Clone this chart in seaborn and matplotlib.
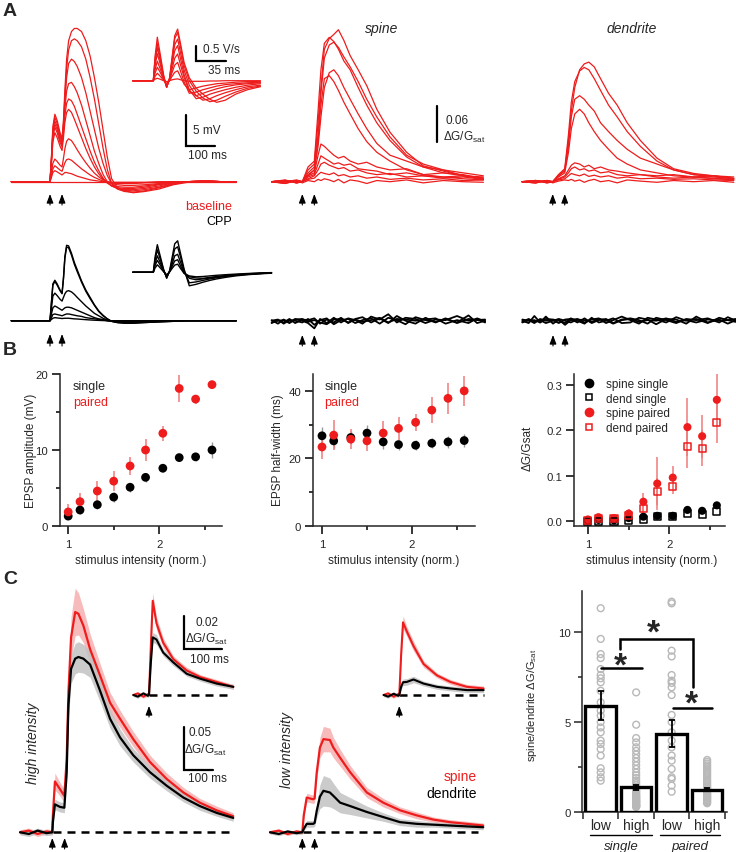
import numpy as np
import pandas as pd
import matplotlib
matplotlib.use("Agg")
import matplotlib.pyplot as plt
from matplotlib.lines import Line2D
import seaborn as sns

# ---------------- DATA ----------------
# Panel A, somatic EPSPs (ms from first stimulus, mV)
A_T = [-135, -20, 0, 5, 10, 17, 25, 35, 42, 47, 52, 58, 65, 75, 85, 95, 110, 125, 140, 155,
       170, 185, 200, 215, 235, 260, 290, 330, 380, 430, 480, 540, 600, 650]
A_EPSP_BASE = [
    [0, 0, 0, 4, 9, 11, 10, 8, 7, 10, 15, 20, 23, 24.5, 25, 25, 24.5, 23, 20.5, 17, 13, 8.5, 4, 0.5, -1, -1.5, -1.8, -1.6, -1.2, -0.5, -0.1, 0.1, 0, 0],
    [0, 0, 0, 3.8, 8.5, 10.5, 9.5, 7.6, 6.7, 9.5, 14, 18.5, 21.5, 23, 23.3, 23, 22, 20, 17, 13.5, 9.5, 5.5, 2, -0.3, -1.2, -1.6, -1.7, -1.5, -1, -0.4, 0, 0.1, 0, 0],
    [0, 0, 0, 3.6, 8, 9.9, 9, 7.2, 6.4, 9, 13, 17, 19.3, 20, 19.6, 18.8, 17, 14.5, 11.5, 8.5, 5.5, 3, 1, -0.3, -1, -1.4, -1.5, -1.3, -0.9, -0.3, 0, 0.1, 0, 0],
    [0, 0, 0, 3.4, 7.6, 9.4, 8.5, 6.8, 6, 8.5, 12, 14.8, 16, 16.2, 15.5, 14.5, 12.5, 10, 7.5, 5, 3, 1.2, 0, -0.7, -1.1, -1.3, -1.3, -1.1, -0.7, -0.2, 0, 0.1, 0, 0],
    [0, 0, 0, 3.2, 7.2, 8.9, 8, 6.4, 5.7, 8, 10.8, 12.8, 13.5, 13.2, 12.3, 11, 9, 7, 5, 3.2, 1.8, 0.6, -0.2, -0.7, -1, -1.1, -1.1, -0.9, -0.5, -0.2, 0, 0.1, 0, 0],
    [0, 0, 0, 2.9, 6.5, 8, 7.2, 5.8, 5.1, 7.2, 9.7, 11.3, 11.8, 11.3, 10.2, 9, 7.2, 5.4, 3.8, 2.4, 1.3, 0.4, -0.2, -0.6, -0.8, -0.9, -0.9, -0.7, -0.4, -0.1, 0, 0.1, 0, 0],
    [0, 0, 0, 1.4, 3, 3.7, 3.3, 2.7, 2.4, 3.8, 5.4, 6.6, 7, 6.7, 6, 5.2, 4.1, 3.1, 2.2, 1.4, 0.8, 0.3, 0, -0.3, -0.5, -0.6, -0.6, -0.5, -0.3, -0.1, 0, 0.1, 0, 0],
    [0, 0, 0, 1, 2.1, 2.6, 2.3, 1.9, 1.7, 2.4, 3.1, 3.6, 3.7, 3.5, 3.1, 2.7, 2.1, 1.6, 1.1, 0.7, 0.4, 0.1, 0, -0.2, -0.3, -0.3, -0.3, -0.2, -0.1, 0, 0, 0.1, 0, 0],
    [0, 0, 0, 0.7, 1.5, 1.8, 1.6, 1.3, 1.1, 1.3, 1.5, 1.5, 1.4, 1.3, 1.1, 0.9, 0.7, 0.5, 0.3, 0.2, 0.1, 0, 0, -0.1, -0.1, -0.1, -0.1, -0.1, 0, 0, 0, 0, 0, 0],
    [0] * 34,
]
A_EPSP_CPP = [
    [0, 0, 0, 3, 6, 6.6, 6, 5, 4.5, 7, 10.5, 12.3, 12.2, 11, 9.5, 8.3, 6.5, 5, 3.8, 2.6, 1.6, 0.9, 0.3, -0.1, -0.3, -0.4, -0.4, -0.3, -0.2, -0.1, 0, 0, 0, 0],
    [0, 0, 0, 2.9, 5.8, 6.4, 5.8, 4.9, 4.4, 6.8, 10.2, 12, 11.9, 10.7, 9.2, 8, 6.3, 4.8, 3.6, 2.5, 1.5, 0.8, 0.3, -0.1, -0.3, -0.4, -0.4, -0.3, -0.2, -0.1, 0, 0, 0, 0],
    [0, 0, 0, 2, 4, 4.5, 4.1, 3.5, 3.2, 3.8, 4.4, 4.8, 4.9, 4.7, 4.3, 3.8, 3.1, 2.4, 1.8, 1.2, 0.8, 0.4, 0.1, -0.1, -0.2, -0.3, -0.3, -0.2, -0.1, 0, 0, 0, 0, 0],
    [0, 0, 0, 1.1, 2.1, 2.4, 2.2, 1.9, 1.7, 1.9, 2.1, 2.2, 2.2, 2.1, 1.9, 1.7, 1.4, 1.1, 0.8, 0.5, 0.3, 0.2, 0, -0.1, -0.1, -0.2, -0.2, -0.1, -0.1, 0, 0, 0, 0, 0],
    [0, 0, 0, 0.5, 1, 1.1, 1, 0.9, 0.8, 0.9, 1, 1.1, 1.1, 1, 0.9, 0.8, 0.7, 0.5, 0.4, 0.3, 0.2, 0.1, 0, 0, 0, -0.1, -0.1, 0, 0, 0, 0, 0, 0, 0],
    [0, 0, 0, 0.2, 0.4, 0.5, 0.45, 0.4, 0.35, 0.38, 0.4, 0.4, 0.4, 0.35, 0.3, 0.28, 0.22, 0.17, 0.12, 0.08, 0.05, 0.02, 0, 0, 0, 0, 0, 0, 0, 0, 0, 0, 0, 0],
]
STIM_T = [0, 42]

# Panel A insets, dV/dt (ms, V/s)
A_DVDT_T = [-24, -2, 0, 2, 4.7, 8, 12, 15.6, 19, 22, 25, 28.4, 32, 36, 42, 50, 58, 66, 74, 84, 96, 110, 125]
A_DVDT_BASE = [
    [0, 0, 0, 0.8, 1.45, 0.9, 0.2, -0.22, 0.1, 0.8, 1.5, 1.72, 1.2, 0.6, 0.1, -0.25, -0.45, -0.62, -0.72, -0.65, -0.45, -0.3, -0.2],
    [0, 0, 0, 0.7, 1.25, 0.78, 0.15, -0.22, 0.08, 0.75, 1.4, 1.61, 1.1, 0.5, 0, -0.35, -0.58, -0.7, -0.65, -0.52, -0.38, -0.25, -0.18],
    [0, 0, 0, 0.6, 1.1, 0.68, 0.12, -0.22, 0.06, 0.65, 1.2, 1.39, 0.9, 0.35, -0.15, -0.5, -0.65, -0.6, -0.5, -0.4, -0.3, -0.2, -0.15],
    [0, 0, 0, 0.5, 0.9, 0.56, 0.1, -0.2, 0.05, 0.55, 1.0, 1.17, 0.7, 0.2, -0.3, -0.6, -0.55, -0.45, -0.38, -0.3, -0.22, -0.15, -0.1],
    [0, 0, 0, 0.36, 0.65, 0.4, 0.07, -0.18, 0.04, 0.4, 0.75, 0.89, 0.5, 0.1, -0.35, -0.5, -0.42, -0.34, -0.27, -0.2, -0.14, -0.1, -0.07],
    [0, 0, 0, 0.25, 0.45, 0.28, 0.05, -0.15, 0.02, 0.28, 0.52, 0.61, 0.3, -0.05, -0.42, -0.38, -0.3, -0.24, -0.18, -0.13, -0.1, -0.07, -0.05],
    [0, 0, 0, 0.14, 0.25, 0.15, 0.02, -0.1, 0, 0.15, 0.28, 0.33, 0.12, -0.12, -0.3, -0.24, -0.18, -0.14, -0.1, -0.08, -0.05, -0.03, -0.02],
    [0, 0, 0, 0.05, 0.08, 0.05, 0, -0.03, 0, 0.03, 0.05, 0.06, 0.03, 0, -0.02, -0.02, -0.02, -0.01, -0.01, 0, 0, 0, 0],
]
A_DVDT_CPP_T = [-24, -2, 0, 2, 4.7, 8, 12, 15.6, 19, 22, 25, 28.4, 32, 36, 42, 50, 58, 66, 74, 84, 96, 110, 125, 138]
A_DVDT_CPP = [
    [0, 0, 0, 0.5, 0.92, 0.55, 0.1, -0.2, 0.05, 0.5, 0.95, 1.05, 0.6, 0.1, -0.45, -0.4, -0.33, -0.27, -0.22, -0.17, -0.12, -0.08, -0.05, -0.03],
    [0, 0, 0, 0.4, 0.75, 0.45, 0.08, -0.18, 0.04, 0.4, 0.78, 0.85, 0.48, 0.05, -0.35, -0.32, -0.27, -0.22, -0.18, -0.14, -0.1, -0.07, -0.04, -0.02],
    [0, 0, 0, 0.3, 0.55, 0.33, 0.06, -0.15, 0.03, 0.28, 0.55, 0.6, 0.32, 0, -0.2, -0.25, -0.22, -0.19, -0.16, -0.12, -0.09, -0.06, -0.04, -0.02],
    [0, 0, 0, 0.22, 0.4, 0.24, 0.04, -0.12, 0.02, 0.2, 0.38, 0.42, 0.2, -0.03, -0.15, -0.19, -0.2, -0.17, -0.14, -0.11, -0.08, -0.05, -0.03, -0.02],
    [0, 0, 0, 0.14, 0.25, 0.15, 0.02, -0.08, 0.01, 0.13, 0.24, 0.27, 0.12, -0.04, -0.12, -0.15, -0.14, -0.12, -0.1, -0.08, -0.06, -0.04, -0.02, -0.01],
]

# Panel A calcium (ms, dG/Gsat)
CA_T = [-107, -60, -20, 0, 20, 42, 55, 65, 77, 94, 110, 126, 145, 167, 195, 225, 260, 306, 364, 422, 492, 562, 632]
CA_SPINE_BASE = [
    [0, 0.003, -0.002, 0, 0.02, 0.03, 0.1, 0.16, 0.225, 0.243, 0.25, 0.258, 0.24, 0.214, 0.19, 0.163, 0.123, 0.084, 0.05, 0.027, 0.018, 0.01, 0.008],
    [0, -0.002, 0.002, 0, 0.025, 0.035, 0.12, 0.19, 0.235, 0.245, 0.238, 0.225, 0.205, 0.19, 0.16, 0.13, 0.1, 0.07, 0.042, 0.025, 0.015, 0.012, 0.005],
    [0, 0.002, 0, 0, 0.015, 0.025, 0.08, 0.15, 0.21, 0.232, 0.237, 0.228, 0.212, 0.195, 0.17, 0.14, 0.11, 0.076, 0.045, 0.03, 0.02, 0.01, 0.006],
    [0, 0, 0.002, 0, 0.01, 0.02, 0.06, 0.11, 0.16, 0.185, 0.19, 0.18, 0.16, 0.14, 0.115, 0.09, 0.065, 0.045, 0.035, 0.025, 0.02, 0.015, 0.01],
    [0, 0.002, -0.002, 0, 0.012, 0.02, 0.07, 0.13, 0.175, 0.18, 0.17, 0.155, 0.135, 0.115, 0.09, 0.068, 0.05, 0.035, 0.02, 0.012, 0.008, 0.005, 0.003],
    [0, 0, 0.003, 0, 0.01, 0.015, 0.045, 0.064, 0.06, 0.052, 0.045, 0.04, 0.043, 0.035, 0.03, 0.033, 0.025, 0.02, 0.022, 0.012, 0.015, 0.01, 0.006],
    [0, 0.002, 0, 0, 0.008, 0.012, 0.03, 0.044, 0.04, 0.035, 0.03, 0.032, 0.028, 0.03, 0.022, 0.02, 0.018, 0.012, 0.015, 0.01, 0.008, 0.01, 0.005],
    [0, -0.003, 0.002, 0, 0.005, 0.01, 0.02, 0.03, 0.033, 0.028, 0.025, 0.022, 0.024, 0.018, 0.02, 0.015, 0.012, 0.014, 0.008, 0.01, 0.006, 0.008, 0.004],
    [0, 0.002, -0.002, 0, 0.004, 0.006, 0.012, 0.016, 0.014, 0.012, 0.015, 0.01, 0.012, 0.008, 0.01, 0.006, 0.008, 0.004, 0.006, 0.003, 0.005, 0.002, 0.003],
    [0, -0.003, 0.002, -0.002, 0.002, 0, 0.004, 0.002, 0.005, 0.003, 0, 0.004, -0.002, 0.003, 0.001, -0.003, 0.002, 0, 0.003, -0.002, 0.002, 0, -0.001],
]
CA_DEND_BASE = [
    [0, 0.002, -0.002, 0, 0.01, 0.02, 0.07, 0.12, 0.16, 0.19, 0.2, 0.203, 0.195, 0.175, 0.15, 0.13, 0.1, 0.07, 0.04, 0.022, 0.014, 0.01, 0.008],
    [0, -0.002, 0.002, 0, 0.012, 0.022, 0.08, 0.135, 0.17, 0.188, 0.194, 0.19, 0.175, 0.155, 0.13, 0.11, 0.085, 0.06, 0.035, 0.02, 0.012, 0.008, 0.005],
    [0, 0.002, 0, 0, 0.01, 0.018, 0.06, 0.11, 0.14, 0.146, 0.14, 0.13, 0.12, 0.1, 0.085, 0.07, 0.055, 0.04, 0.03, 0.02, 0.012, 0.01, 0.006],
    [0, 0, 0.002, 0, 0.008, 0.015, 0.05, 0.09, 0.115, 0.123, 0.115, 0.1, 0.085, 0.07, 0.055, 0.04, 0.03, 0.02, 0.015, 0.01, 0.008, 0.01, 0.005],
    [0, 0.002, -0.002, 0, 0.005, 0.01, 0.02, 0.028, 0.032, 0.03, 0.025, 0.028, 0.022, 0.025, 0.02, 0.018, 0.015, 0.012, 0.01, 0.012, 0.008, 0.006, 0.004],
    [0, -0.002, 0.002, 0, 0.004, 0.008, 0.015, 0.022, 0.025, 0.02, 0.022, 0.018, 0.02, 0.015, 0.017, 0.012, 0.01, 0.012, 0.008, 0.006, 0.008, 0.005, 0.003],
    [0, 0.002, 0, 0, 0.003, 0.005, 0.01, 0.014, 0.012, 0.01, 0.013, 0.009, 0.011, 0.008, 0.01, 0.006, 0.008, 0.005, 0.006, 0.004, 0.005, 0.003, 0.002],
    [0, -0.002, 0.002, -0.002, 0.001, 0.003, 0.002, 0.004, 0.001, 0.003, -0.001, 0.002, 0.004, 0, 0.002, -0.002, 0.003, 0.001, -0.001, 0.002, 0, 0.002, -0.001],
]
CA_CPP_T = [-107, -85, -65, -45, -25, 0, 20, 42, 62, 85, 110, 135, 160, 185, 210, 240, 270, 300, 330, 360,
            395, 430, 465, 500, 540, 580, 610, 638]
CA_SPINE_CPP = [
    [0.002, -0.004, 0.003, -0.002, 0.004, 0.001, -0.003, -0.012, 0.004, -0.003, 0.006, -0.002, 0.005, 0.002, -0.004, 0.008, 0.003, 0.012, -0.002, 0.006, 0.004, -0.003, 0.003, 0.002, 0.009, 0.001, 0.004, -0.002],
    [-0.003, 0.002, -0.002, 0.004, -0.003, 0.003, 0.002, 0.005, -0.004, 0.003, -0.002, 0.006, -0.003, 0.004, 0.007, -0.002, 0.005, -0.003, 0.009, 0.001, -0.004, 0.006, -0.002, 0.005, -0.003, 0.004, 0.002, 0.003],
    [0.001, 0.003, -0.004, 0.002, 0.001, -0.002, 0.004, -0.006, 0.002, 0.005, -0.005, 0.002, 0.004, -0.003, 0.002, 0.005, -0.004, 0.006, 0.002, -0.005, 0.007, 0.002, -0.001, 0.004, -0.002, 0.01, -0.003, 0.001],
    [-0.002, 0.001, 0.002, -0.003, 0.003, 0.004, -0.001, 0.002, -0.002, -0.005, 0.003, 0.004, -0.002, 0.003, -0.001, 0.002, 0.006, -0.002, 0.004, 0.003, 0.001, 0.003, 0.005, -0.004, 0.002, -0.003, 0.005, 0],
]
CA_DEND_CPP = [
    [0.001, -0.003, 0.009, -0.002, 0.008, -0.004, 0.003, -0.006, 0.002, 0.004, -0.002, 0.003, 0.005, -0.003, 0.002, 0.008, 0.002, -0.004, 0.006, 0.003, -0.002, 0.007, 0.001, 0.004, -0.003, 0.006, 0.002, -0.001],
    [-0.002, 0.002, -0.003, 0.004, 0.001, 0.002, -0.003, 0.003, 0.004, -0.002, 0.005, -0.003, 0.002, 0.004, -0.003, 0.003, 0.005, 0.002, -0.004, 0.006, 0.002, -0.003, 0.004, 0.002, 0.005, -0.002, 0.007, 0.001],
    [0.003, 0.001, 0.002, -0.002, 0.004, 0.003, 0.001, -0.003, 0.005, 0.001, -0.004, 0.006, -0.002, 0.001, 0.005, -0.003, -0.002, 0.006, 0.003, -0.005, 0.004, 0.003, -0.004, 0.008, -0.002, 0.003, -0.004, 0.002],
    [-0.001, 0.004, -0.001, 0.002, -0.003, 0.001, 0.004, 0.001, -0.002, 0.003, 0.002, -0.001, 0.004, 0.002, -0.004, 0.002, 0.004, -0.001, 0.002, 0.001, 0.005, -0.001, 0.002, -0.002, 0.003, 0.001, 0.002, 0.004],
]

# Panel B
INTENSITY = [1.0, 1.13, 1.32, 1.5, 1.68, 1.85, 2.04, 2.22, 2.40, 2.58]
AMP_SINGLE = [1.3, 2.1, 2.8, 3.8, 5.1, 6.4, 7.6, 9.0, 9.1, 10.0]
AMP_SINGLE_ERR = [0.4, 0.5, 0.6, 0.7, 0.6, 0.6, 0.5, 0.5, 0.5, 1.0]
AMP_PAIRED = [1.85, 3.2, 4.6, 5.9, 7.9, 10.0, 12.2, 18.1, 16.7, 18.6]
AMP_PAIRED_ERR = [1.0, 1.2, 1.3, 1.3, 1.2, 1.5, 1.0, 1.8, 0.6, 0.5]
HW_SINGLE = [26.7, 25.2, 26.2, 27.5, 24.9, 24.1, 23.9, 24.5, 24.9, 25.3]
HW_SINGLE_ERR = [2.5, 2.0, 2.0, 2.5, 2.0, 1.5, 1.5, 1.5, 1.8, 2.0]
HW_PAIRED = [23.4, 26.9, 25.7, 25.2, 27.5, 28.9, 30.7, 34.3, 37.8, 40.0]
HW_PAIRED_ERR = [3.5, 4.5, 3.0, 3.0, 3.5, 3.5, 2.5, 3.8, 4.5, 4.5]
DG_SPINE_SINGLE = [0.0015, 0.003, 0.002, 0.007, 0.010, 0.012, 0.012, 0.025, 0.023, 0.035]
DG_SPINE_SINGLE_ERR = [0.001, 0.002, 0.002, 0.003, 0.003, 0.003, 0.003, 0.004, 0.004, 0.005]
DG_DEND_SINGLE = [0.0, 0.0, 0.0, 0.001, 0.003, 0.010, 0.010, 0.017, 0.014, 0.021]
DG_SPINE_PAIRED = [0.004, 0.009, 0.007, 0.017, 0.043, 0.083, 0.096, 0.207, 0.187, 0.267]
DG_SPINE_PAIRED_ERR = [0.002, 0.003, 0.003, 0.01, 0.02, 0.058, 0.025, 0.063, 0.047, 0.057]
DG_DEND_PAIRED = [0.002, 0.006, 0.007, 0.012, 0.029, 0.065, 0.076, 0.164, 0.161, 0.218]
DG_DEND_PAIRED_ERR = [0.002, 0.002, 0.002, 0.005, 0.01, 0.03, 0.015, 0.046, 0.04, 0.045]

# Panel C traces (ms, dG/Gsat), mean and sem
C_HI_T = [-110, -80, -50, -20, 0, 2, 9, 26, 41, 49, 55, 64, 78, 89, 106, 129, 163, 197, 231, 276, 333, 390, 447, 503, 560, 617]
C_HI_SPINE = [0, 0.002, -0.002, 0.001, 0, 0.02, 0.06, 0.051, 0.043, 0.086, 0.165, 0.23, 0.26, 0.258, 0.244, 0.216, 0.185, 0.153, 0.134, 0.11, 0.083, 0.063, 0.047, 0.035, 0.026, 0.019]
C_HI_SPINE_SEM = [0.003, 0.003, 0.003, 0.003, 0.003, 0.005, 0.01, 0.008, 0.008, 0.012, 0.02, 0.025, 0.028, 0.025, 0.02, 0.018, 0.014, 0.012, 0.01, 0.009, 0.008, 0.007, 0.006, 0.005, 0.005, 0.004]
C_HI_DEND = [0, -0.002, 0.002, -0.001, 0, 0.012, 0.033, 0.03, 0.029, 0.07, 0.15, 0.193, 0.205, 0.207, 0.205, 0.198, 0.167, 0.134, 0.112, 0.091, 0.071, 0.055, 0.041, 0.031, 0.023, 0.017]
C_HI_DEND_SEM = [0.003, 0.003, 0.003, 0.003, 0.003, 0.004, 0.006, 0.006, 0.006, 0.01, 0.015, 0.017, 0.018, 0.018, 0.017, 0.015, 0.013, 0.011, 0.01, 0.008, 0.007, 0.006, 0.005, 0.005, 0.004, 0.004]
C_LO_T = [-110, -80, -50, -20, 0, 5, 15, 37, 42, 49, 60, 72, 94, 106, 129, 163, 220, 276, 333, 390, 447, 503, 560, 617]
C_LO_SPINE = [0, 0.002, -0.002, 0.001, 0, 0.02, 0.041, 0.039, 0.04, 0.07, 0.1, 0.11, 0.109, 0.1, 0.088, 0.071, 0.047, 0.035, 0.026, 0.02, 0.015, 0.012, 0.01, 0.008]
C_LO_SPINE_SEM = [0.002, 0.002, 0.002, 0.002, 0.002, 0.003, 0.005, 0.005, 0.005, 0.008, 0.012, 0.015, 0.014, 0.012, 0.01, 0.008, 0.006, 0.005, 0.004, 0.004, 0.003, 0.003, 0.003, 0.003]
C_LO_DEND = [0, -0.002, 0.001, -0.001, 0, 0.004, 0.01, 0.01, 0.011, 0.025, 0.042, 0.049, 0.047, 0.043, 0.035, 0.031, 0.024, 0.018, 0.012, 0.01, 0.009, 0.008, 0.007, 0.006]
C_LO_DEND_SEM = [0.002, 0.002, 0.002, 0.002, 0.002, 0.002, 0.004, 0.004, 0.004, 0.008, 0.014, 0.018, 0.017, 0.015, 0.012, 0.01, 0.007, 0.005, 0.004, 0.004, 0.003, 0.003, 0.003, 0.003]
C_IN_T = [-42, -30, -15, -3, 0, 5, 10, 20, 38, 65, 101, 137, 181, 226]
C_HI_IN_SPINE = [0, 0.001, -0.001, 0.0005, 0, 0.03, 0.0577, 0.044, 0.032, 0.022, 0.015, 0.011, 0.008, 0.005]
C_HI_IN_SPINE_SEM = [0.001, 0.001, 0.001, 0.001, 0.001, 0.003, 0.005, 0.004, 0.003, 0.002, 0.002, 0.0015, 0.0015, 0.0015]
C_HI_IN_DEND = [0, -0.001, 0.001, -0.0005, 0, 0.02, 0.0353, 0.034, 0.026, 0.02, 0.013, 0.01, 0.007, 0.005]
C_HI_IN_DEND_SEM = [0.001, 0.001, 0.001, 0.001, 0.001, 0.002, 0.003, 0.003, 0.002, 0.002, 0.0015, 0.0015, 0.0015, 0.0015]
C_LO_IN_SPINE = [0, 0.001, -0.001, 0.0005, 0, 0.025, 0.0445, 0.039, 0.03, 0.019, 0.012, 0.008, 0.005, 0.004]
C_LO_IN_SPINE_SEM = [0.001, 0.001, 0.001, 0.001, 0.001, 0.003, 0.004, 0.003, 0.003, 0.002, 0.0015, 0.0015, 0.0015, 0.0015]
C_LO_IN_DEND = [0, -0.001, 0.0008, -0.0005, 0, 0.005, 0.0078, 0.008, 0.0095, 0.007, 0.005, 0.004, 0.003, 0.003]
C_LO_IN_DEND_SEM = [0.001, 0.001, 0.001, 0.001, 0.001, 0.0015, 0.002, 0.002, 0.002, 0.0015, 0.0015, 0.0015, 0.0015, 0.0015]

# Panel C bar chart (spine/dendrite ratio)
BAR_LABELS = ["low", "high", "low", "high"]
BAR_GROUPS = ["single", "paired"]
BAR_MEANS = [5.9, 1.38, 4.34, 1.24]
BAR_SEM = [0.8, 0.12, 0.75, 0.08]
RATIO_SINGLE_LOW = [11.3, 9.6, 8.76, 8.54, 7.93, 7.6, 7.42, 7.2, 6.73, 6.09, 5.63, 5.35, 5.0, 4.7, 4.43,
                    3.97, 3.78, 3.5, 3.14, 2.44, 2.21, 1.94, 1.75]
RATIO_SINGLE_HIGH = [6.64, 4.85, 4.11, 3.87, 3.6, 3.4, 3.2, 3.0, 2.8, 2.6, 2.4, 2.2, 2.05, 1.9, 1.75, 1.62,
                     1.5, 1.4, 1.3, 1.22, 1.15, 1.08, 1.0, 0.95, 0.9, 0.85, 0.8, 0.75, 0.7, 0.66, 0.62,
                     0.58, 0.54, 0.5, 0.46, 0.42, 0.38, 0.35, 0.32, 0.3]
RATIO_PAIRED_LOW = [11.66, 11.57, 8.95, 8.63, 7.6, 7.29, 7.16, 6.92, 6.49, 5.39, 5.0, 4.43, 3.97, 3.6,
                    3.14, 2.86, 2.4, 1.94, 1.85, 1.48, 1.14]
RATIO_PAIRED_HIGH = [2.9, 2.8, 2.7, 2.6, 2.5, 2.4, 2.3, 2.2, 2.1, 2.0, 1.9, 1.8, 1.7, 1.6, 1.5, 1.42,
                     1.35, 1.28, 1.2, 1.12, 1.05, 0.98, 0.92, 0.86, 0.8, 0.74, 0.68, 0.62, 0.56, 0.5]

# ---------------- STYLE ----------------
sns.set_theme(style="ticks")
plt.rcParams["font.family"] = ["Liberation Sans", "DejaVu Sans"]
plt.rcParams["mathtext.fontset"] = "custom"
plt.rcParams["mathtext.rm"] = "Liberation Sans"
plt.rcParams["mathtext.it"] = "Liberation Sans:italic"
plt.rcParams["axes.linewidth"] = 1.1
RED = "#ee1c1c"
ERR_RED = "#f07a7a"
PINK = "#f6b0b0"
GREY = "#c2c2c2"
FS = 8.5
TFS = 8.2

W, H = 736, 853
fig = plt.figure(figsize=(W / 100, H / 100), dpi=100)
fig.patch.set_facecolor("white")


def frac(box):
    x0, y0, x1, y1 = box
    return [x0 / W, 1 - y1 / H, (x1 - x0) / W, (y1 - y0) / H]


def ftext(x, y, s, **kw):
    kw.setdefault("ha", "left")
    kw.setdefault("va", "center")
    kw.setdefault("fontsize", FS)
    fig.text(x / W, 1 - y / H, s, **kw)


def trace_axes(box, px_t0, ms_per_px, px_base, px_per_unit):
    ax = fig.add_axes(frac(box))
    ax.patch.set_alpha(0)
    x0, y0, x1, y1 = box
    ax.set_xlim((x0 - px_t0) * ms_per_px, (x1 - px_t0) * ms_per_px)
    ax.set_ylim((px_base - y1) / px_per_unit, (px_base - y0) / px_per_unit)
    ax.set_axis_off()
    ax.pxmap = (px_t0, ms_per_px, px_base, px_per_unit)
    return ax


def to_data(ax, px, py):
    t0, mpp, base, ppu = ax.pxmap
    return (px - t0) * mpp, (base - py) / ppu


def draw_family(ax, t, traces, color, lw):
    rows = []
    for i, tr in enumerate(traces):
        assert len(tr) == len(t), (len(tr), len(t))
        rows += [(i, a, b) for a, b in zip(t, tr)]
    df = pd.DataFrame(rows, columns=["trace", "t", "v"])
    sns.lineplot(data=df, x="t", y="v", units="trace", estimator=None, color=color,
                 lw=lw, ax=ax, legend=False, sort=False)


def stim_arrows(ax, times, py_top, py_bot):
    _, yt = to_data(ax, 0, py_top)
    _, yb = to_data(ax, 0, py_bot)
    for tt in times:
        ax.annotate("", xy=(tt, yt), xytext=(tt, yb),
                    arrowprops=dict(arrowstyle="-|>,head_length=0.45,head_width=0.17",
                                    color="black", lw=0.8, shrinkA=0, shrinkB=0),
                    annotation_clip=False)


def scalebar(ax, px, py, dx, dy):
    x, y = to_data(ax, px, py)
    if dx:
        ax.plot([x, x, x + dx], [y + dy, y, y], color="black", lw=1.6, clip_on=False,
                solid_joinstyle="miter")
    else:
        ax.plot([x, x], [y, y + dy], color="black", lw=1.6, clip_on=False)


def mean_sem(ax, t, m, s, fill_color):
    assert len(t) == len(m) == len(s)
    m = np.asarray(m)
    s = np.asarray(s)
    ax.fill_between(t, m - s, m + s, color=fill_color, lw=0, alpha=0.85, zorder=1)


def mean_line(ax, t, m, color, lw):
    sns.lineplot(x=t, y=m, color=color, lw=lw, ax=ax, sort=False, estimator=None, zorder=3)


# ---------------- PANEL A ----------------
axA1 = trace_axes((8, 15, 245, 212), 50, 3.49, 182.7, 6.13)
draw_family(axA1, A_T, A_EPSP_BASE, RED, 0.9)
stim_arrows(axA1, STIM_T, 195, 206)
scalebar(axA1, 186, 147, 100, 5)
ftext(193, 131, "5 mV")
ftext(188, 156, "100 ms")

axA1i = trace_axes((128, 25, 268, 112), 153.3, 1.167, 81.7, 30)
draw_family(axA1i, A_DVDT_T, A_DVDT_BASE, RED, 0.9)
scalebar(axA1i, 196, 62, 35, 0.5)
ftext(203, 50, "0.5 V/s")
ftext(208, 71, "35 ms")

ftext(232, 207, "baseline", ha="right", color=RED, fontsize=9)
ftext(232, 222, "CPP", ha="right", color="black", fontsize=9)

axA2 = trace_axes((8, 225, 245, 352), 50, 3.49, 321.7, 6.13)
draw_family(axA2, A_T, A_EPSP_CPP, "black", 1.0)
stim_arrows(axA2, STIM_T, 335, 347)

axA2i = trace_axes((128, 225, 275, 300), 153.3, 1.167, 273.3, 30)
draw_family(axA2i, A_DVDT_CPP_T, A_DVDT_CPP, "black", 1.0)

axS = trace_axes((265, 20, 490, 212), 302.3, 3.49, 182.7, 589)
draw_family(axS, CA_T, CA_SPINE_BASE, RED, 0.9)
stim_arrows(axS, STIM_T, 195, 206)
scalebar(axS, 437, 142.7, 0, 0.06)
ftext(446, 121, "0.06")
ftext(443, 137, r"ΔG/G$_\mathregular{sat}$")
ftext(382, 29, "spine", ha="center", style="italic", fontsize=10)

axD = trace_axes((515, 20, 736, 212), 552.7, 3.49, 182.7, 589)
draw_family(axD, CA_T, CA_DEND_BASE, RED, 0.9)
stim_arrows(axD, STIM_T, 195, 206)
ftext(632, 29, "dendrite", ha="center", style="italic", fontsize=10)

axS2 = trace_axes((265, 295, 490, 352), 302.3, 3.49, 322.3, 589)
draw_family(axS2, CA_CPP_T, CA_SPINE_CPP, "black", 1.3)
stim_arrows(axS2, STIM_T, 336, 347)

axD2 = trace_axes((515, 295, 736, 352), 553, 3.49, 322.3, 589)
draw_family(axD2, CA_CPP_T, CA_DEND_CPP, "black", 1.3)
stim_arrows(axD2, STIM_T, 336, 347)

ftext(3, 12, "A", fontsize=14, fontweight="bold")
ftext(3, 351, "B", fontsize=14, fontweight="bold")
ftext(3, 579, "C", fontsize=14, fontweight="bold")


# ---------------- PANEL B ----------------
def style_b(ax, xlim, ylim, yticks, yminor):
    ax.set_xlim(xlim)
    ax.set_ylim(ylim)
    ax.set_xticks([1, 2])
    ax.set_xticks([1.5, 2.5], minor=True)
    ax.set_yticks(yticks)
    ax.set_yticks(yminor, minor=True)
    sns.despine(ax=ax)
    ax.tick_params(which="major", direction="out", length=5.5, width=1.1, labelsize=TFS, color="black")
    ax.tick_params(which="minor", direction="out", length=3, width=1.1, color="black")
    ax.tick_params(axis="x", which="major", pad=4)
    ax.tick_params(axis="y", which="major", pad=3)
    ax.set_xlabel("")
    ax.set_ylabel("")
    ax.patch.set_alpha(0)


axB1 = fig.add_axes(frac((60, 375, 222, 527)))
axB1.errorbar(INTENSITY, AMP_SINGLE, yerr=AMP_SINGLE_ERR, fmt="none", ecolor="0.6", elinewidth=1, zorder=1)
axB1.errorbar(INTENSITY, AMP_PAIRED, yerr=AMP_PAIRED_ERR, fmt="none", ecolor=ERR_RED, elinewidth=1.1, zorder=1)
sns.scatterplot(x=INTENSITY, y=AMP_SINGLE, color="black", s=40, edgecolor="none", ax=axB1, zorder=3)
sns.scatterplot(x=INTENSITY, y=AMP_PAIRED, color=RED, s=40, edgecolor="none", ax=axB1, zorder=4)
style_b(axB1, (0.91, 2.69), (0, 20), [0, 10, 20], [5, 15])
axB1.text(0.08, 0.92, "single", transform=axB1.transAxes, fontsize=9, va="center")
axB1.text(0.08, 0.815, "paired", transform=axB1.transAxes, fontsize=9, va="center", color=RED)
ftext(31, 451, "EPSP amplitude (mV)", rotation=90, ha="center")
ftext(141, 561, "stimulus intensity (norm.)", ha="center")

axB2 = fig.add_axes(frac((313, 375, 475, 527)))
axB2.errorbar(INTENSITY, HW_SINGLE, yerr=HW_SINGLE_ERR, fmt="none", ecolor="0.6", elinewidth=1, zorder=1)
axB2.errorbar(INTENSITY, HW_PAIRED, yerr=HW_PAIRED_ERR, fmt="none", ecolor=ERR_RED, elinewidth=1.1, zorder=1)
sns.scatterplot(x=INTENSITY, y=HW_SINGLE, color="black", s=40, edgecolor="none", ax=axB2, zorder=3)
sns.scatterplot(x=INTENSITY, y=HW_PAIRED, color=RED, s=40, edgecolor="none", ax=axB2, zorder=4)
style_b(axB2, (0.9, 2.7), (0, 45), [0, 20, 40], [10, 30])
axB2.text(0.07, 0.92, "single", transform=axB2.transAxes, fontsize=9, va="center")
axB2.text(0.07, 0.815, "paired", transform=axB2.transAxes, fontsize=9, va="center", color=RED)
ftext(278, 450, "EPSP half-width (ms)", rotation=90, ha="center")
ftext(394, 561, "stimulus intensity (norm.)", ha="center")

axB3 = fig.add_axes(frac((574, 375, 725, 527)))
axB3.errorbar(INTENSITY, DG_SPINE_PAIRED, yerr=DG_SPINE_PAIRED_ERR, fmt="none", ecolor=ERR_RED, elinewidth=1.1, zorder=1)
axB3.errorbar(INTENSITY, DG_DEND_PAIRED, yerr=DG_DEND_PAIRED_ERR, fmt="none", ecolor=ERR_RED, elinewidth=1.1, zorder=1)
axB3.errorbar(INTENSITY, DG_SPINE_SINGLE, yerr=DG_SPINE_SINGLE_ERR, fmt="none", ecolor="0.6", elinewidth=1, zorder=1)
sns.scatterplot(x=INTENSITY, y=DG_SPINE_SINGLE, color="black", s=34, edgecolor="none", ax=axB3, zorder=3)
sns.scatterplot(x=INTENSITY, y=DG_DEND_SINGLE, marker="s", s=26, facecolor="none", edgecolor="black",
                linewidth=1.1, ax=axB3, zorder=4)
sns.scatterplot(x=INTENSITY, y=DG_SPINE_PAIRED, color=RED, s=34, edgecolor="none", ax=axB3, zorder=3)
sns.scatterplot(x=INTENSITY, y=DG_DEND_PAIRED, marker="s", s=26, facecolor="none", edgecolor=RED,
                linewidth=1.1, ax=axB3, zorder=4)
style_b(axB3, (0.83, 2.68), (-0.0104, 0.3238), [0, 0.1, 0.2, 0.3], [])
axB3.yaxis.set_major_formatter(matplotlib.ticker.FormatStrFormatter("%.1f"))
handles = [
    Line2D([], [], ls="none", marker="o", ms=6, mfc="black", mec="black"),
    Line2D([], [], ls="none", marker="s", ms=5, mfc="none", mec="black", mew=1.1),
    Line2D([], [], ls="none", marker="o", ms=6, mfc=RED, mec=RED),
    Line2D([], [], ls="none", marker="s", ms=5, mfc="none", mec=RED, mew=1.1),
]
axB3.legend(handles, ["spine single", "dend single", "spine paired", "dend paired"],
            loc="upper left", bbox_to_anchor=(582 / W, 1 - 379 / H), bbox_transform=fig.transFigure,
            frameon=False, fontsize=FS, handlelength=1.2, handletextpad=0.8, labelspacing=0.22,
            borderpad=0, borderaxespad=0)
ftext(528, 448, "ΔG/Gsat", rotation=90, ha="center")
ftext(652, 561, "stimulus intensity (norm.)", ha="center")

# ---------------- PANEL C traces ----------------
axCH = trace_axes((15, 585, 240, 852), 52.3, 3.41, 833.3, 847)
mean_sem(axCH, C_HI_T, C_HI_SPINE, C_HI_SPINE_SEM, PINK)
mean_sem(axCH, C_HI_T, C_HI_DEND, C_HI_DEND_SEM, GREY)
mean_line(axCH, C_HI_T, C_HI_SPINE, RED, 1.6)
mean_line(axCH, C_HI_T, C_HI_DEND, "black", 1.6)
axCH.plot([2, 606], [0, 0], color="black", lw=1.8, dashes=(3.2, 2.4), zorder=0)
stim_arrows(axCH, STIM_T, 839, 850)
scalebar(axCH, 184, 770.7, 100, 0.05)
ftext(188, 733, "0.05")
ftext(184, 750, r"ΔG/G$_\mathregular{sat}$")
ftext(188, 779, "100 ms")
ftext(33, 743, "high intensity", rotation=90, ha="center", style="italic", fontsize=10)

axCHi = trace_axes((128, 585, 240, 722), 149, 2.68, 696, 1633)
mean_sem(axCHi, C_IN_T, C_HI_IN_SPINE, C_HI_IN_SPINE_SEM, PINK)
mean_sem(axCHi, C_IN_T, C_HI_IN_DEND, C_HI_IN_DEND_SEM, GREY)
mean_line(axCHi, C_IN_T, C_HI_IN_SPINE, RED, 1.5)
mean_line(axCHi, C_IN_T, C_HI_IN_DEND, "black", 1.5)
axCHi.plot([0, 225], [0, 0], color="black", lw=1.8, dashes=(3.2, 2.4), zorder=0)
stim_arrows(axCHi, [0], 707, 718)
scalebar(axCHi, 184.3, 650, 100, 0.02)
ftext(196, 623, "0.02")
ftext(185, 639, r"ΔG/G$_\mathregular{sat}$")
ftext(190, 660, "100 ms")

axCL = trace_axes((265, 585, 490, 852), 302.3, 3.41, 833.3, 847)
mean_sem(axCL, C_LO_T, C_LO_SPINE, C_LO_SPINE_SEM, PINK)
mean_sem(axCL, C_LO_T, C_LO_DEND, C_LO_DEND_SEM, GREY)
mean_line(axCL, C_LO_T, C_LO_SPINE, RED, 1.6)
mean_line(axCL, C_LO_T, C_LO_DEND, "black", 1.6)
axCL.plot([2, 600], [0, 0], color="black", lw=1.8, dashes=(3.2, 2.4), zorder=0)
stim_arrows(axCL, STIM_T, 839, 850)
ftext(287, 750, "low intensity", rotation=90, ha="center", style="italic", fontsize=10)
ftext(477, 777, "spine", ha="right", color=RED, fontsize=10)
ftext(477, 794, "dendrite", ha="right", color="black", fontsize=10)

axCLi = trace_axes((380, 585, 490, 722), 399.3, 2.68, 696, 1633)
mean_sem(axCLi, C_IN_T, C_LO_IN_SPINE, C_LO_IN_SPINE_SEM, PINK)
mean_sem(axCLi, C_IN_T, C_LO_IN_DEND, C_LO_IN_DEND_SEM, GREY)
mean_line(axCLi, C_IN_T, C_LO_IN_SPINE, RED, 1.5)
mean_line(axCLi, C_IN_T, C_LO_IN_DEND, "black", 1.5)
axCLi.plot([0, 228], [0, 0], color="black", lw=1.8, dashes=(3.2, 2.4), zorder=0)
stim_arrows(axCLi, [0], 707, 718)

# ---------------- PANEL C bars ----------------
axC = fig.add_axes(frac((581.7, 591.7, 727, 813.3)))
axC.patch.set_alpha(0)
pos = list(range(len(BAR_MEANS)))
point_sets = [RATIO_SINGLE_LOW, RATIO_SINGLE_HIGH, RATIO_PAIRED_LOW, RATIO_PAIRED_HIGH]
pts = pd.DataFrame([(p, v) for p, vals in zip(pos, point_sets) for v in vals], columns=["pos", "ratio"])
sns.scatterplot(data=pts, x="pos", y="ratio", marker="o", s=24, facecolor="none", edgecolor="#b8b8b8",
                linewidth=1.0, ax=axC, zorder=2, clip_on=False)
bars = pd.DataFrame({"pos": pos, "mean": BAR_MEANS})
sns.barplot(data=bars, x="pos", y="mean", color="black", fill=False, linewidth=2.4, width=0.86,
            errorbar=None, ax=axC, zorder=3)
axC.errorbar(pos, BAR_MEANS, yerr=BAR_SEM, fmt="none", ecolor="black", elinewidth=1.3, capsize=2.5,
             capthick=1.3, zorder=4)
axC.set_xlim(-0.535, 3.56)
axC.set_ylim(0, 12.27)
axC.set_yticks([0, 5, 10])
axC.set_yticks([2.5, 7.5], minor=True)
axC.set_xticks([-0.5, 0.5, 1.5, 2.5, 3.5])
axC.set_xticklabels([])
axC.set_xticks(pos, minor=True)
axC.set_xticklabels(BAR_LABELS, minor=True)
sns.despine(ax=axC)
axC.tick_params(axis="y", which="major", direction="out", length=5.5, width=1.1, labelsize=TFS, pad=2)
axC.tick_params(axis="y", which="minor", direction="out", length=3, width=1.1)
axC.tick_params(axis="x", which="major", direction="out", length=5, width=1.1)
axC.tick_params(axis="x", which="minor", length=0, labelsize=10, pad=4)
axC.set_xlabel("")
axC.set_ylabel("")
ftext(532, 705, r"spine/dendrite ΔG/G$_\mathregular{sat}$", rotation=90, ha="center", fontsize=8)

# significance brackets
axC.plot([0.01, 1.155], [7.97, 7.97], color="black", lw=1.8, clip_on=False)
axC.plot([0.545, 0.545, 2.59, 2.59], [9.04, 9.6, 9.6, 6.92], color="black", lw=1.8, clip_on=False,
         solid_joinstyle="miter")
axC.plot([2.03, 3.13], [5.78, 5.78], color="black", lw=1.8, clip_on=False)
for sx, sy in [(0.57, 8.1), (1.48, 9.9), (2.55, 6.0)]:
    axC.text(sx, sy, "*", fontsize=24, ha="center", va="center", fontweight="bold")

# group underline and labels
axC.plot([-0.30, 1.44], [-1.26, -1.26], color="black", lw=1, clip_on=False)
axC.plot([1.67, 3.37], [-1.26, -1.26], color="black", lw=1, clip_on=False)
axC.text(0.57, -1.85, BAR_GROUPS[0], ha="center", va="center", style="italic", fontsize=9.5)
axC.text(2.52, -1.85, BAR_GROUPS[1], ha="center", va="center", style="italic", fontsize=9.5)

fig.savefig("out.png", dpi=100)
